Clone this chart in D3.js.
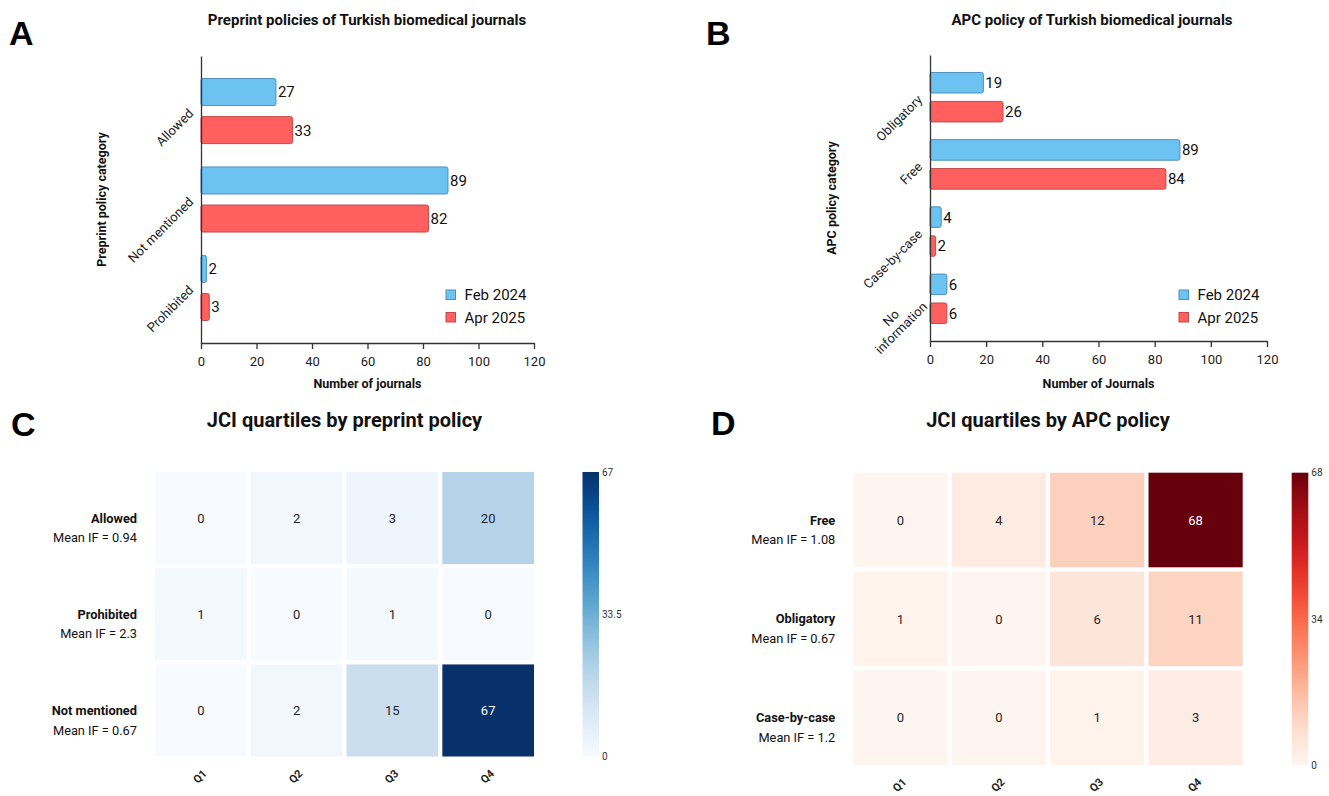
<!DOCTYPE html>
<html><head><meta charset="utf-8">
<script src="https://cdn.jsdelivr.net/npm/d3@7"></script>
<style>
body{margin:0;background:#fff;}
svg{display:block;font-family:Roboto,"Noto Sans",sans-serif;}
</style></head><body>
<svg id="chart" width="1329" height="796"></svg>
<script>
// ---------- DATA ----------
const seriesNames = ["Feb 2024", "Apr 2025"];
const xTicks = [0, 20, 40, 60, 80, 100, 120];

const preprintCategories = ["Allowed", "Not mentioned", "Prohibited"];
const preprintFeb2024 = [27, 89, 2];
const preprintApr2025 = [33, 82, 3];

const apcCategories = ["Obligatory", "Free", "Case-by-case", "No\ninformation"];
const apcFeb2024 = [19, 89, 4, 6];
const apcApr2025 = [26, 84, 2, 6];

const quartiles = ["Q1", "Q2", "Q3", "Q4"];

const jciPreprintRows = ["Allowed", "Prohibited", "Not mentioned"];
const jciPreprintMeanIF = ["0.94", "2.3", "0.67"];
const jciPreprintCounts = [[0, 2, 3, 20], [1, 0, 1, 0], [0, 2, 15, 67]];
const jciPreprintTicks = [0, 33.5, 67];

const jciApcRows = ["Free", "Obligatory", "Case-by-case"];
const jciApcMeanIF = ["1.08", "0.67", "1.2"];
const jciApcCounts = [[0, 4, 12, 68], [1, 0, 6, 11], [0, 0, 1, 3]];
const jciApcTicks = [0, 34, 68];

// ---------- STYLE ----------
const svg = d3.select("#chart");
const FILLS = ["#6cc3f2", "#ff5f5f"];
const STROKES = ["#4f8fbf", "#c24a4a"];
const AX = "#333";
const LETTER_FONT = "'Liberation Sans', Arial, sans-serif";

function letter(txt, x, y) {
  svg.append("text").attr("x", x).attr("y", y).text(txt)
    .attr("font-family", LETTER_FONT).attr("font-weight", "bold")
    .attr("font-size", 34).attr("fill", "#000");
}

function barPanel(cfg) {
  const g = svg.append("g");
  const x = d3.scaleLinear().domain([0, 120]).range([cfg.x0, cfg.x1]);
  const y = d3.scaleBand().domain(cfg.cats).range([cfg.yTop, cfg.yBot])
    .paddingInner(0).paddingOuter(cfg.po);
  const half = y.bandwidth() * 0.368;
  const sub = d3.scaleBand().domain(seriesNames).range([-half, half]).paddingInner(0.29);
  const series = [cfg.feb, cfg.apr];

  series.forEach((vals, si) => {
    const data = cfg.cats.map((c, i) => ({ c, v: vals[i] }));
    const yy = d => y(d.c) + y.bandwidth() / 2 + sub(seriesNames[si]);
    g.selectAll(null).data(data).join("rect")
      .attr("x", x(0)).attr("y", yy)
      .attr("width", d => x(d.v) - x(0)).attr("height", sub.bandwidth())
      .attr("rx", 2).attr("ry", 2)
      .attr("fill", FILLS[si]).attr("stroke", STROKES[si]).attr("stroke-width", 1);
    g.selectAll(null).data(data).join("text")
      .attr("x", d => x(d.v) + 2).attr("y", d => yy(d) + sub.bandwidth() / 2)
      .attr("dy", "0.36em").attr("font-size", 15).attr("fill", "#111")
      .text(d => d.v);
  });

  // axes
  const xa = g.append("g").attr("transform", `translate(0,${cfg.yBot})`)
    .call(d3.axisBottom(x).tickValues(xTicks).tickSize(6).tickSizeOuter(0).tickPadding(8));
  xa.selectAll("path,line").attr("stroke", AX).attr("stroke-width", 1.3);
  xa.selectAll("text").attr("font-size", 13).attr("fill", "#222").attr("font-family", "Roboto");
  const ya = g.append("g").attr("transform", `translate(${cfg.x0},0)`)
    .call(d3.axisLeft(y).tickSize(0).tickSizeOuter(0).tickFormat(""));
  ya.selectAll("path").attr("stroke", AX).attr("stroke-width", 1.3);

  // category labels rotated
  cfg.cats.forEach(c => {
    const lines = c.split("\n");
    const t = g.append("text")
      .attr("transform", `translate(${cfg.x0 - 10},${y(c) + y.bandwidth() / 2}) rotate(-45)`)
      .attr("text-anchor", lines.length > 1 ? "middle" : "end")
      .attr("font-size", 13).attr("fill", "#222");
    lines.forEach((l, i) => {
      t.append("tspan").attr("x", lines.length > 1 ? -34 : 0)
        .attr("dy", i === 0 ? (0.35 - (lines.length - 1) * 0.55) + "em" : "1.1em")
        .text(l);
    });
  });

  // titles
  g.append("text").attr("x", cfg.titleX).attr("y", 25)
    .attr("text-anchor", "middle").attr("font-weight", "bold").attr("font-size", 15)
    .attr("fill", "#111").text(cfg.title);
  g.append("text").attr("x", (cfg.x0 + cfg.x1) / 2).attr("y", 388)
    .attr("text-anchor", "middle").attr("font-weight", "bold").attr("font-size", 12.5)
    .attr("fill", "#111").text(cfg.xLabel);
  g.append("text").attr("transform", `translate(${cfg.yLabelX},${(cfg.yTop + cfg.yBot) / 2}) rotate(-90)`)
    .attr("text-anchor", "middle").attr("font-weight", "bold").attr("font-size", 12.5)
    .attr("fill", "#111").text(cfg.yLabel);

  // legend
  seriesNames.forEach((s, i) => {
    const ly = 290 + i * 22.5;
    g.append("rect").attr("x", cfg.legendX).attr("y", ly).attr("width", 9.5).attr("height", 9.5)
      .attr("fill", FILLS[i]).attr("stroke", STROKES[i]).attr("stroke-width", 1);
    g.append("text").attr("x", cfg.legendX + 18.5).attr("y", ly + 4.75).attr("dy", "0.36em")
      .attr("font-size", 15).attr("fill", "#111").text(s);
  });
}

function heatPanel(cfg) {
  const g = svg.append("g");
  const x = d3.scaleBand().domain(quartiles).range([cfg.x0, cfg.x1]).paddingInner(0.043).paddingOuter(0);
  const y = d3.scaleBand().domain(cfg.rows).range([cfg.y0, cfg.y1]).paddingInner(0.043).paddingOuter(0);
  const color = d3.scaleSequential(cfg.interp).domain([0, cfg.vmax]);
  const cells = [];
  cfg.rows.forEach((r, ri) => quartiles.forEach((q, qi) => cells.push({ r, q, v: cfg.counts[ri][qi] })));

  g.selectAll(null).data(cells).join("rect")
    .attr("x", d => x(d.q)).attr("y", d => y(d.r))
    .attr("width", x.bandwidth()).attr("height", y.bandwidth())
    .attr("fill", d => color(d.v));
  g.selectAll(null).data(cells).join("text")
    .attr("x", d => x(d.q) + x.bandwidth() / 2).attr("y", d => y(d.r) + y.bandwidth() / 2)
    .attr("dy", "0.36em").attr("text-anchor", "middle").attr("font-size", 13)
    .attr("fill", d => d.v > cfg.vmax * 0.6 ? "#fff" : "#262626").text(d => d.v);

  // row labels
  cfg.rows.forEach((r, ri) => {
    const cy = y(r) + y.bandwidth() / 2;
    g.append("text").attr("x", cfg.x0 - 18).attr("y", cy).attr("dy", "0.36em")
      .attr("text-anchor", "end").attr("font-weight", "bold").attr("font-size", 12.8)
      .attr("fill", "#111").text(r);
    g.append("text").attr("x", cfg.x0 - 18).attr("y", cy + 19.5).attr("dy", "0.36em")
      .attr("text-anchor", "end").attr("font-size", 12.8)
      .attr("fill", "#111").text("Mean IF = " + cfg.meanIF[ri]);
  });

  // column labels
  quartiles.forEach(q => {
    g.append("text")
      .attr("transform", `translate(${x(q) + x.bandwidth() / 2 + 4},${cfg.y1 + 15}) rotate(-45)`)
      .attr("text-anchor", "end").attr("dy", "0.35em").attr("font-weight", "bold")
      .attr("font-size", 11).attr("fill", "#222").text(q);
  });

  // title
  g.append("text").attr("x", (cfg.x0 + cfg.x1) / 2).attr("y", 427)
    .attr("text-anchor", "middle").attr("font-weight", "bold").attr("font-size", 20)
    .attr("fill", "#111").text(cfg.title);

  // colorbar
  const gid = "grad" + cfg.id;
  const grad = svg.append("defs").append("linearGradient").attr("id", gid)
    .attr("x1", 0).attr("y1", 1).attr("x2", 0).attr("y2", 0);
  d3.range(0, 1.0001, 0.05).forEach(t => grad.append("stop")
    .attr("offset", t).attr("stop-color", color(t * cfg.vmax)));
  g.append("rect").attr("x", cfg.cbX).attr("y", cfg.y0).attr("width", cfg.cbW)
    .attr("height", cfg.y1 - cfg.y0).attr("fill", `url(#${gid})`);
  const cs = d3.scaleLinear().domain([0, cfg.vmax]).range([cfg.y1, cfg.y0]);
  const ca = g.append("g").attr("transform", `translate(${cfg.cbX + cfg.cbW},0)`)
    .call(d3.axisRight(cs).tickValues(cfg.ticks).tickSize(0).tickPadding(3)
      .tickFormat(d => String(d)));
  ca.select(".domain").remove();
  ca.selectAll("line").remove();
  ca.selectAll("text").attr("font-size", 10).attr("fill", "#333").attr("font-family", "Roboto");
}

// ---------- DRAW ----------
letter("A", 9, 45);
letter("B", 706, 45);
letter("C", 11, 436);
letter("D", 711, 435);

barPanel({
  cats: preprintCategories, feb: preprintFeb2024, apr: preprintApr2025,
  x0: 201, x1: 534, yTop: 56, yBot: 343, po: 0.123, titleX: 367,
  title: "Preprint policies of Turkish biomedical journals",
  xLabel: "Number of journals", yLabel: "Preprint policy category", yLabelX: 106,
  legendX: 446
});
barPanel({
  cats: apcCategories, feb: apcFeb2024, apr: apcApr2025,
  x0: 930, x1: 1267, yTop: 55, yBot: 341, po: 0.128, titleX: 1092,
  title: "APC policy of Turkish biomedical journals",
  xLabel: "Number of Journals", yLabel: "APC policy category", yLabelX: 836,
  legendX: 1179
});

heatPanel({
  id: "C", rows: jciPreprintRows, meanIF: jciPreprintMeanIF, counts: jciPreprintCounts,
  interp: d3.interpolateBlues, vmax: 67, ticks: jciPreprintTicks,
  x0: 155, x1: 534, y0: 472, y1: 756.5, cbX: 582.5, cbW: 16.5,
  title: "JCI quartiles by preprint policy"
});
heatPanel({
  id: "D", rows: jciApcRows, meanIF: jciApcMeanIF, counts: jciApcCounts,
  interp: d3.interpolateReds, vmax: 68, ticks: jciApcTicks,
  x0: 853.3, x1: 1242.7, y0: 472.7, y1: 765, cbX: 1291.7, cbW: 16.6,
  title: "JCI quartiles by APC policy"
});
</script>
</body></html>
